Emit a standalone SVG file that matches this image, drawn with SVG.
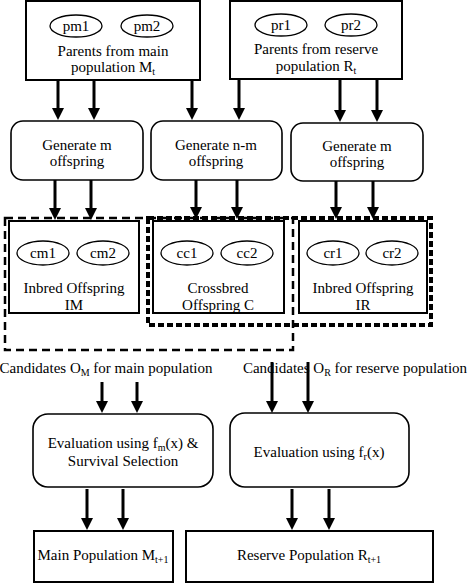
<svg xmlns="http://www.w3.org/2000/svg" width="469" height="583" viewBox="0 0 469 583">
<style>
text{font-family:"Liberation Serif","Times New Roman",serif;font-size:15px;fill:#000;text-anchor:middle}
.box{fill:#fff;stroke:#000;stroke-width:2}
.rbox{fill:#fff;stroke:#000;stroke-width:1.6}
.ell{fill:#fff;stroke:#000;stroke-width:1.3}
.arr{stroke:#000;stroke-width:3;fill:none;marker-end:url(#ah)}
.dash1{fill:none;stroke:#000;stroke-width:2.5;stroke-dasharray:8,5}
.dash2{fill:none;stroke:#000;stroke-width:4;stroke-dasharray:6,3}
.sub{font-size:10px}
</style>
<defs>
<marker id="ah" viewBox="0 0 12 12" refX="6" refY="6" markerWidth="12" markerHeight="12" markerUnits="userSpaceOnUse" orient="auto">
<path d="M0,0 L12,6 L0,12 z" fill="#000"/>
</marker>
</defs>
<rect width="469" height="583" fill="#fff"/>

<g id="parents-main">
<rect class="box" x="26" y="1" width="174" height="79"/>
<ellipse class="ell" cx="76" cy="26" rx="26" ry="11"/>
<text x="76" y="31">pm1</text>
<ellipse class="ell" cx="147" cy="26" rx="26" ry="11"/>
<text x="147" y="31">pm2</text>
<text x="113" y="56">Parents from main</text>
<text x="113" y="72">population M<tspan class="sub" dy="3">t</tspan></text>
</g>

<g id="parents-reserve">
<rect class="box" x="230" y="1" width="172" height="78"/>
<ellipse class="ell" cx="281" cy="25" rx="26" ry="11"/>
<text x="281" y="30">pr1</text>
<ellipse class="ell" cx="351" cy="25" rx="26" ry="11"/>
<text x="351" y="30">pr2</text>
<text x="316" y="54">Parents from reserve</text>
<text x="316" y="71">population R<tspan class="sub" dy="3">t</tspan></text>
</g>

<g id="gen-m-main">
<rect class="rbox" x="11" y="121" width="132" height="59" rx="12"/>
<text x="77" y="150">Generate m</text>
<text x="77" y="166">offspring</text>
</g>
<g id="gen-nm">
<rect class="rbox" x="151" y="121" width="131" height="59" rx="12"/>
<text x="216" y="150">Generate n-m</text>
<text x="216" y="166">offspring</text>
</g>
<g id="gen-m-reserve">
<rect class="rbox" x="291" y="123" width="132" height="58" rx="12"/>
<text x="357" y="151">Generate m</text>
<text x="357" y="167">offspring</text>
</g>

<g id="group-main-candidates">
<rect class="dash1" x="5" y="218" width="288" height="132"/>
</g>
<g id="group-reserve-candidates">
<rect class="dash2" x="148" y="218" width="283" height="107"/>
</g>

<g id="inbred-im">
<rect class="box" x="9" y="221" width="130" height="92"/>
<ellipse class="ell" cx="43" cy="253" rx="26" ry="12"/>
<text x="43" y="258">cm1</text>
<ellipse class="ell" cx="103" cy="253" rx="26" ry="12"/>
<text x="103" y="258">cm2</text>
<text x="74" y="293">Inbred Offspring</text>
<text x="74" y="310">IM</text>
</g>
<g id="crossbred-c">
<rect class="box" x="153" y="221" width="131" height="92"/>
<ellipse class="ell" cx="187" cy="253" rx="26" ry="12"/>
<text x="187" y="258">cc1</text>
<ellipse class="ell" cx="247" cy="253" rx="26" ry="12"/>
<text x="247" y="258">cc2</text>
<text x="218" y="293">Crossbred</text>
<text x="218" y="310">Offspring C</text>
</g>
<g id="inbred-ir">
<rect class="box" x="299" y="221" width="128" height="92"/>
<ellipse class="ell" cx="333" cy="253" rx="26" ry="12"/>
<text x="333" y="258">cr1</text>
<ellipse class="ell" cx="392" cy="253" rx="26" ry="12"/>
<text x="392" y="258">cr2</text>
<text x="363" y="293">Inbred Offspring</text>
<text x="363" y="310">IR</text>
</g>

<g id="candidates-main">
<text x="106" y="373">Candidates O<tspan class="sub" dy="3">M</tspan><tspan dy="-3"> for main population</tspan></text>
</g>
<g id="candidates-reserve">
<text x="355" y="373">Candidates O<tspan class="sub" dy="3">R</tspan><tspan dy="-3"> for reserve population</tspan></text>
</g>

<g id="eval-main">
<rect class="rbox" x="33" y="414" width="180" height="73" rx="15"/>
<text x="123" y="448">Evaluation using f<tspan class="sub" dy="3">m</tspan><tspan dy="-3">(x) &amp;</tspan></text>
<text x="123" y="466">Survival Selection</text>
</g>
<g id="eval-reserve">
<rect class="rbox" x="230" y="413" width="179" height="74" rx="15"/>
<text x="319" y="457">Evaluation using f<tspan class="sub" dy="3">r</tspan><tspan dy="-3">(x)</tspan></text>
</g>

<g id="main-next">
<rect class="box" x="34" y="531" width="139" height="51"/>
<text x="103" y="560">Main Population M<tspan class="sub" dy="3">t+1</tspan></text>
</g>
<g id="reserve-next">
<rect class="box" x="186" y="531" width="247" height="51"/>
<text x="309" y="560">Reserve Population R<tspan class="sub" dy="3">t+1</tspan></text>
</g>

<g id="connectors">
<line class="arr" x1="58" y1="80" x2="58" y2="114"/>
<line class="arr" x1="94" y1="80" x2="94" y2="114"/>
<line class="arr" x1="192" y1="80" x2="192" y2="114"/>
<line class="arr" x1="239" y1="79" x2="239" y2="114"/>
<line class="arr" x1="340" y1="79" x2="340" y2="116"/>
<line class="arr" x1="377" y1="79" x2="377" y2="116"/>
<line class="arr" x1="55" y1="180" x2="55" y2="214"/>
<line class="arr" x1="91" y1="180" x2="91" y2="214"/>
<line class="arr" x1="196" y1="180" x2="196" y2="213"/>
<line class="arr" x1="237" y1="180" x2="237" y2="213"/>
<line class="arr" x1="336" y1="181" x2="336" y2="213"/>
<line class="arr" x1="373" y1="181" x2="373" y2="213"/>
<line class="arr" x1="102" y1="382" x2="102" y2="407"/>
<line class="arr" x1="137" y1="382" x2="137" y2="407"/>
<line class="arr" x1="272" y1="362" x2="272" y2="407"/>
<line class="arr" x1="308" y1="362" x2="308" y2="407"/>
<line class="arr" x1="87" y1="489" x2="87" y2="524"/>
<line class="arr" x1="123" y1="489" x2="123" y2="524"/>
<line class="arr" x1="292" y1="489" x2="292" y2="524"/>
<line class="arr" x1="329" y1="489" x2="329" y2="524"/>
</g>
</svg>
